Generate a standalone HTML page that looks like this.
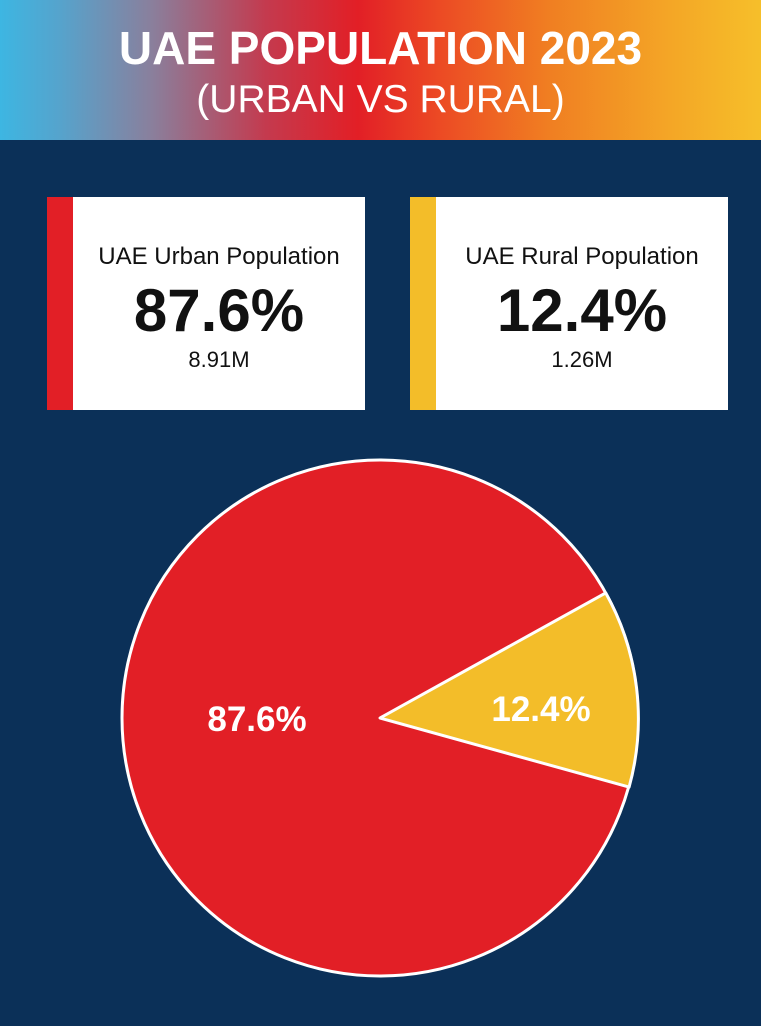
<!DOCTYPE html>
<html><head><meta charset="utf-8"><style>
body{margin:0;width:761px;height:1026px;background:#0b3058;font-family:"Liberation Sans",sans-serif;overflow:hidden;position:relative}
.hdr{position:absolute;left:0;top:0;width:761px;height:140px;background:linear-gradient(90deg,#3db6e2 0%,#56a3cc 8%,#8a7f9c 20%,#c43a4e 35%,#e21f26 47%,#ec4b24 58%,#f07e22 72%,#f4a626 88%,#f6bf2a 100%);color:#fff;text-align:center}
.t1{position:absolute;left:0;right:0;top:21px;font-size:46px;font-weight:bold}
.t2{position:absolute;left:0;right:0;top:78px;font-size:39px}
.card{position:absolute;top:197px;width:318px;height:213px;background:#fff;text-align:center;color:#111}
.bar{position:absolute;left:0;top:0;width:26px;height:100%}
.lab{position:absolute;left:26px;right:0;top:46px;font-size:24px}
.big{position:absolute;left:26px;right:0;top:79px;font-size:60px;font-weight:bold}
.sm{position:absolute;left:26px;right:0;top:150px;font-size:22px}
</style></head><body>
<div class="hdr"><div class="t1">UAE POPULATION 2023</div><div class="t2">(URBAN VS RURAL)</div></div>
<div class="card" style="left:47px"><div class="bar" style="background:#e21f26"></div><div class="lab">UAE Urban Population</div><div class="big">87.6%</div><div class="sm">8.91M</div></div>
<div class="card" style="left:410px"><div class="bar" style="background:#f3bd29"></div><div class="lab">UAE Rural Population</div><div class="big">12.4%</div><div class="sm">1.26M</div></div>
<svg width="761" height="1026" style="position:absolute;left:0;top:0">
<circle cx="380" cy="718" r="258" fill="#e21f26" stroke="#fff" stroke-width="3"/>
<path d="M380 718 L605.7 592.9 A258 258 0 0 1 629.1 787.1 Z" fill="#f3bd29" stroke="#fff" stroke-width="3" stroke-linejoin="round"/>
<text x="257" y="731" font-family="Liberation Sans,sans-serif" font-size="35" font-weight="bold" fill="#fff" text-anchor="middle">87.6%</text>
<text x="541" y="721" font-family="Liberation Sans,sans-serif" font-size="35" font-weight="bold" fill="#fff" text-anchor="middle">12.4%</text>
</svg>
</body></html>
